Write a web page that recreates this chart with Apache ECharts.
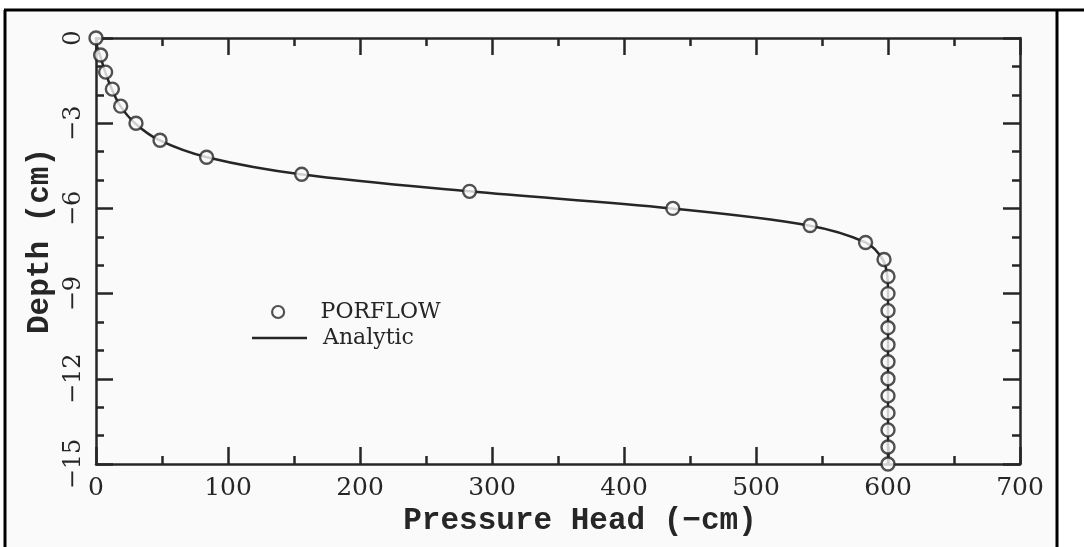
<!DOCTYPE html>
<html>
<head>
<meta charset="utf-8">
<script src="https://cdn.jsdelivr.net/npm/echarts@6/dist/echarts.min.js"></script>
<style>
  html, body { margin: 0; padding: 0; background: #fff; }
  #chart { width: 1084px; height: 547px; }
</style>
</head>
<body>
<div id="chart"></div>
<script>
// PORFLOW simulation points (pressure head in -cm, depth in cm)
const porflowDepth = [0, -0.6, -1.2, -1.8, -2.4, -3.0, -3.6, -4.2, -4.8, -5.4, -6.0, -6.6, -7.2, -7.8,
  -8.4, -9.0, -9.6, -10.2, -10.8, -11.4, -12.0, -12.6, -13.2, -13.8, -14.4, -15.0];
const porflowHead = [0, 3.5, 7.3, 12.4, 18.7, 30.3, 48.5, 83.8, 155.8, 283, 437, 541, 583, 597,
  600, 600, 600, 600, 600, 600, 600, 600, 600, 600, 600, 600];

// analytic solution
const analyticDepth = [0, -0.3, -0.6, -1.2, -1.8, -2.4, -3.0, -3.6, -4.2, -4.8, -5.4, -6.0, -6.6, -7.2, -7.8, -8.4, -9.0, -15.0];
const analyticHead = [0, 0.8, 3, 7, 12, 18.5, 29.5, 48, 84, 155, 283, 436, 540, 583, 596, 599.5, 600, 600];

const xTicks = [0, 100, 200, 300, 400, 500, 600, 700];
const yTicks = [0, -3, -6, -9, -12, -15];

const ink = '#262626';
const paper = '#fafafa';
const labelFont = 'DejaVu Serif';
const titleFont = 'Liberation Mono';

let myChart = echarts.init(document.getElementById('chart'));

function pairs(xs, ys) {
  return xs.map((x, i) => [x, ys[i]]);
}

function minusSign(v) {
  return String(v).replace('-', '\u2212');
}

const axisCommon = {
  axisLine: { onZero: false, lineStyle: { color: ink, width: 2.5 } },
  axisTick: { inside: true, length: 17, lineStyle: { color: ink, width: 2.5 } },
  minorTick: { show: true, length: 8, lineStyle: { color: ink, width: 2.5 } },
  splitLine: { show: false },
};

let option = {
  backgroundColor: '#ffffff',
  animation: false,
  graphic: [
    { type: 'rect', shape: { x: 5, y: 10, width: 1052, height: 537 }, style: { fill: paper }, z: -10 },
    { type: 'line', shape: { x1: 4, y1: 10, x2: 1084, y2: 10 }, style: { stroke: '#000', lineWidth: 3 } },
    { type: 'line', shape: { x1: 5, y1: 10, x2: 5, y2: 547 }, style: { stroke: '#000', lineWidth: 3 } },
    { type: 'line', shape: { x1: 1057, y1: 10, x2: 1057, y2: 547 }, style: { stroke: '#000', lineWidth: 3 } },
  ],
  grid: { left: 96, right: 64, top: 38, bottom: 83 },
  legend: [
    {
      left: 266,
      top: 296,
      itemWidth: 55,
      itemHeight: 12,
      data: [{ name: 'PORFLOW', icon: 'circle' }],
      itemStyle: { color: paper, borderColor: ink, borderWidth: 2.2 },
      textStyle: { fontFamily: labelFont, fontSize: 22, color: ink, padding: [0, 0, 0, 10] },
    },
    {
      left: 247,
      top: 322,
      itemWidth: 55,
      itemHeight: 2.5,
      data: [{ name: 'Analytic', icon: 'rect' }],
      itemStyle: { color: ink, borderWidth: 0 },
      textStyle: { fontFamily: labelFont, fontSize: 22, color: ink, padding: [0, 0, 0, 11] },
    },
  ],
  xAxis: [
    Object.assign({}, axisCommon, {
      type: 'value',
      position: 'bottom',
      min: 0,
      max: 700,
      interval: 100,
      minorTick: Object.assign({}, axisCommon.minorTick, { splitNumber: 2 }),
      name: 'Pressure Head (\u2212cm)',
      nameLocation: 'middle',
      nameGap: 36,
      nameTextStyle: {
        fontFamily: titleFont,
        fontWeight: 'bold',
        fontSize: 31,
        color: ink,
        padding: [0, 0, 0, 44],
      },
      axisLabel: {
        margin: 12,
        fontFamily: labelFont,
        fontSize: 25,
        color: ink,
        formatter: (v) => (xTicks.indexOf(v) >= 0 ? String(v) : ''),
      },
    }),
    Object.assign({}, axisCommon, {
      type: 'value',
      position: 'top',
      min: 0,
      max: 700,
      interval: 100,
      minorTick: Object.assign({}, axisCommon.minorTick, { splitNumber: 2 }),
      axisLabel: { show: false },
    }),
  ],
  yAxis: [
    Object.assign({}, axisCommon, {
      type: 'value',
      position: 'left',
      min: -15,
      max: 0,
      interval: 3,
      minorTick: Object.assign({}, axisCommon.minorTick, { splitNumber: 3 }),
      name: 'Depth (cm)',
      nameLocation: 'middle',
      nameMoveOverlap: false,
      nameGap: 40,
      nameRotate: 90,
      nameTextStyle: {
        fontFamily: titleFont,
        fontWeight: 'bold',
        fontSize: 31,
        color: ink,
        padding: [0, 0, 0, 20],
      },
      axisLabel: {
        margin: 10,
        rotate: 90,
        fontFamily: labelFont,
        fontSize: 24,
        color: ink,
        formatter: (v) => (yTicks.indexOf(v) >= 0 ? minusSign(v) : ''),
      },
    }),
    Object.assign({}, axisCommon, {
      type: 'value',
      position: 'right',
      min: -15,
      max: 0,
      interval: 3,
      minorTick: Object.assign({}, axisCommon.minorTick, { splitNumber: 3 }),
      axisLabel: { show: false },
    }),
  ],
  series: [
    {
      name: 'Analytic',
      type: 'line',
      data: pairs(analyticHead, analyticDepth),
      smooth: 0.35,
      symbol: 'none',
      lineStyle: { color: ink, width: 2.5 },
      itemStyle: { color: ink },
      z: 2,
    },
    {
      name: 'PORFLOW',
      type: 'scatter',
      data: pairs(porflowHead, porflowDepth),
      symbol: 'circle',
      symbolSize: 13,
      itemStyle: { color: paper, borderColor: ink, borderWidth: 2.4 },
      z: 3,
    },
  ],
};

myChart.setOption(option);
</script>
</body>
</html>
